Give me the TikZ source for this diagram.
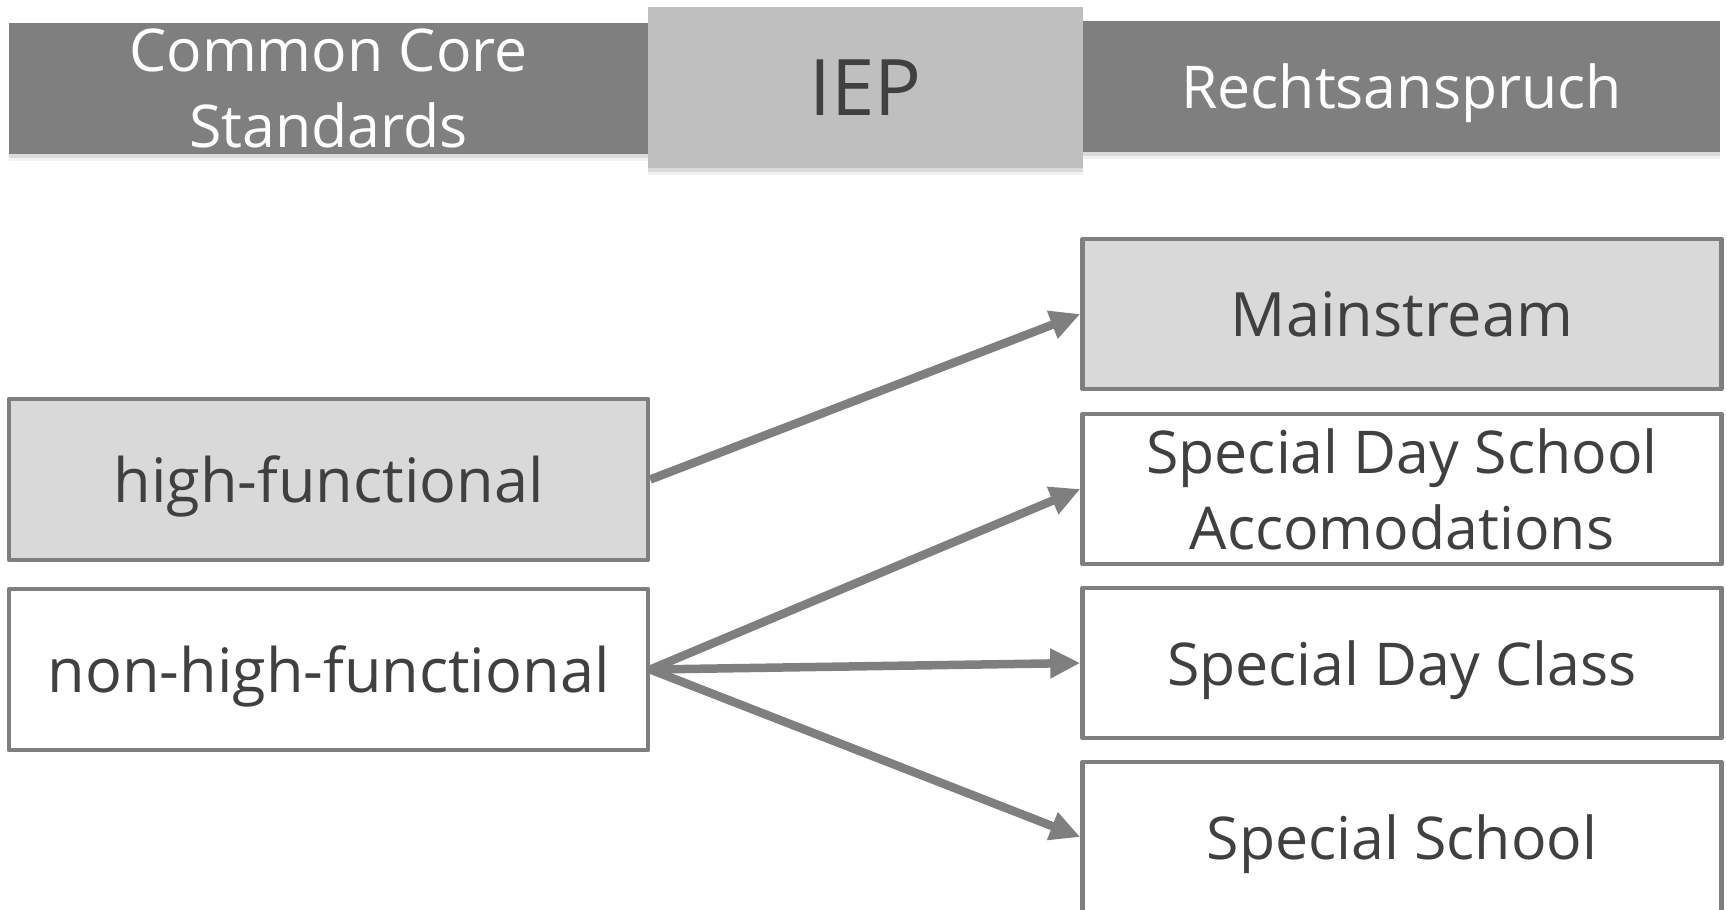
\documentclass[tikz,border=0pt]{standalone}
\usepackage{fontspec}
\setmainfont{Open Sans}
\usetikzlibrary{arrows.meta,shadows}
\definecolor{bargray}{HTML}{7F7F7F}
\definecolor{iepgray}{HTML}{BFBFBF}
\definecolor{boxgray}{HTML}{D9D9D9}
\definecolor{textgray}{HTML}{404040}

\begin{document}
\begin{tikzpicture}[x=0.5pt, y=-0.5pt]
    \newlength{\px}
    \setlength{\px}{0.5pt}	%one pixel
    \tikzset{
        bar/.style={fill=bargray, text=white, minimum width=639\px, minimum height=131\px,
            inner sep=0pt, align=center, font=\fontsize{29.5}{38}\selectfont, text depth=0pt,
            drop shadow={shadow xshift=0pt, shadow yshift=-3.5pt, opacity=0.1},
            drop shadow={shadow xshift=0pt, shadow yshift=-2pt, opacity=0.2}},
        iepbox/.style={bar, fill=iepgray, text=textgray, minimum width=435\px, minimum height=161\px,
            font=\fontsize{39}{46}\selectfont},
        box/.style={draw=bargray, line width=2.25pt, line join=round, fill=white, text=textgray,
            minimum width=639\px, minimum height=150\px, inner sep=0pt, align=center,
            font=\fontsize{29.5}{38}\selectfont, text depth=0pt},
        big/.style={font=\fontsize{30.6}{38}\selectfont},
        link/.style={draw=bargray, line width=4.25pt, -{Triangle[length=15pt, width=14pt]}}
    };
    \useasboundingbox (0,0) rectangle (1727,909);

    % top row
    \node[bar] (ccs) at (328.5,88.5) {Common Core\\Standards};
    \node[bar, minimum width=637\px] (recht) at (1401.5,86.5) {Rechtsanspruch};
    \node[iepbox] (iep) at (865.5,87.5) {IEP};

    % groups
    \node[box, big, fill=boxgray, minimum height=161\px] (hf) at (328.5,479.5) {high-functional};
    \node[box, big, minimum height=161\px] (nhf) at (328.5,669.5) {non-high-functional};

    % placements
    \node[box, big, fill=boxgray] (ms) at (1402,314) {Mainstream};
    \node[box] (sdsa) at (1402,489) {Special Day School\\Accomodations};
    \node[box] (sdc) at (1402,663) {Special Day Class};
    \node[box] (ss) at (1402,837) {Special School};

    \draw[link] (hf.east) -- (ms.west);
    \foreach \t in {sdsa,sdc,ss}{
        \draw[link] (nhf.east) -- (\t.west);
    }
\end{tikzpicture}
\end{document}
